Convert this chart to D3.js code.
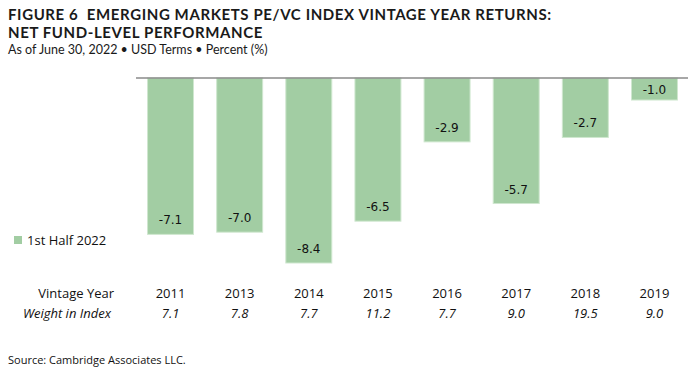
<!DOCTYPE html>
<html>
<head>
<meta charset="utf-8">
<script src="https://cdn.jsdelivr.net/npm/d3@7"></script>
<style>
  body { margin: 0; background: #fff; }
  svg { display: block; }
  text { white-space: pre; }
</style>
</head>
<body>
<svg id="chart" width="699" height="372"></svg>
<script>
// chart data
var years = ["2011", "2013", "2014", "2015", "2016", "2017", "2018", "2019"];
var returns = [-7.1, -7.0, -8.4, -6.5, -2.9, -5.7, -2.7, -1.0];
var weights = ["7.1", "7.8", "7.7", "11.2", "7.7", "9.0", "19.5", "9.0"];
var seriesName = "1st Half 2022";

var svg = d3.select("#chart");
var green = "#a2cda3";

// titles
var titleFont = "Lato, 'Open Sans', sans-serif";
svg.append("text").attr("x", 8).attr("y", 20)
  .style("font-family", titleFont).style("font-size", "15px").style("font-weight", 700)
  .style("letter-spacing", "0.6px")
  .attr("fill", "#1a1a1a")
  .text("FIGURE 6  EMERGING MARKETS PE/VC INDEX VINTAGE YEAR RETURNS:");
svg.append("text").attr("x", 8).attr("y", 38)
  .style("font-family", titleFont).style("font-size", "15px").style("font-weight", 700)
  .style("letter-spacing", "0.6px")
  .attr("fill", "#1a1a1a")
  .text("NET FUND-LEVEL PERFORMANCE");
svg.append("text").attr("x", 8).attr("y", 54)
  .style("font-family", titleFont).style("font-size", "12.5px")
  .attr("fill", "#1a1a1a")
  .text("As of June 30, 2022 \u2022 USD Terms \u2022 Percent (%)");

// scales
var x = d3.scaleBand().domain(years).range([136, 689]).paddingInner(0.335).paddingOuter(0.167);
var y = d3.scaleLinear().domain([0, -8.4]).range([78, 263]);

var g = svg.append("g");

g.selectAll("rect.bar")
  .data(returns)
  .enter()
  .append("rect")
  .attr("class", "bar")
  .attr("x", function (d, i) { return x(years[i]); })
  .attr("y", y(0))
  .attr("width", x.bandwidth())
  .attr("height", function (d) { return y(d) - y(0); })
  .attr("fill", green)
  .attr("stroke", "#cfe7cf")
  .attr("stroke-width", 1);

// axis line at zero
g.append("line")
  .attr("x1", 136).attr("x2", 688)
  .attr("y1", y(0)).attr("y2", y(0))
  .attr("stroke", "#8a8a8a").attr("stroke-width", 1.5);

// value labels
var labelFont = "'DejaVu Sans', Verdana, sans-serif";
g.selectAll("text.val")
  .data(returns)
  .enter()
  .append("text")
  .attr("class", "val")
  .attr("x", function (d, i) { return x(years[i]) + x.bandwidth() / 2; })
  .attr("y", function (d) {
    var h = y(d) - y(0);
    if (h < 30) return y(0) + h / 2 + 4.5;
    return y(d) - 10;
  })
  .attr("text-anchor", "middle")
  .style("font-family", labelFont).style("font-size", "12px")
  .attr("fill", "#111")
  .text(function (d) { return d.toFixed(1); });

// legend
var rowFont = "'Open Sans', sans-serif";
svg.append("rect").attr("x", 14).attr("y", 236).attr("width", 8).attr("height", 8).attr("fill", green);
svg.append("text").attr("x", 27).attr("y", 245)
  .style("font-family", rowFont).style("font-size", "13px")
  .attr("fill", "#111").text(seriesName);

// year row
svg.append("text").attr("x", 114).attr("y", 298).attr("text-anchor", "end")
  .style("font-family", rowFont).style("font-size", "13px")
  .attr("fill", "#111").text("Vintage Year");
svg.selectAll("text.year")
  .data(years)
  .enter()
  .append("text")
  .attr("class", "year")
  .attr("x", function (d) { return x(d) + x.bandwidth() / 2; })
  .attr("y", 298)
  .attr("text-anchor", "middle")
  .style("font-family", rowFont).style("font-size", "13px")
  .attr("fill", "#111").text(function (d) { return d; });

// weight row
svg.append("text").attr("x", 111).attr("y", 318).attr("text-anchor", "end")
  .style("font-family", rowFont).style("font-size", "13px").style("font-style", "italic")
  .attr("fill", "#111").text("Weight in Index");
svg.selectAll("text.weight")
  .data(weights)
  .enter()
  .append("text")
  .attr("class", "weight")
  .attr("x", function (d, i) { return x(years[i]) + x.bandwidth() / 2; })
  .attr("y", 318)
  .attr("text-anchor", "middle")
  .style("font-family", rowFont).style("font-size", "13px").style("font-style", "italic")
  .attr("fill", "#111").text(function (d) { return d; });

// source
svg.append("text").attr("x", 8).attr("y", 364)
  .style("font-family", rowFont).style("font-size", "11px")
  .attr("fill", "#111").text("Source: Cambridge Associates LLC.");
</script>
</body>
</html>
